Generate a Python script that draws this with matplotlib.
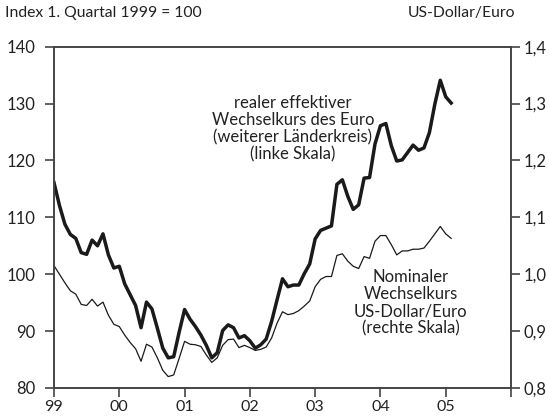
import matplotlib
matplotlib.use("Agg")
import matplotlib.pyplot as plt
import numpy as np

plt.rcParams['font.family'] = ['Lato', 'DejaVu Sans']

# monthly data, Jan 1999 .. Feb 2005
# thick line (left scale)
thick = [116.1, 112.1, 108.8, 107.0, 106.3, 103.8, 103.5, 106.0, 105.0, 107.1, 103.4, 101.1,
         101.4, 98.3, 96.4, 94.5, 90.6, 95.1, 93.9, 90.5, 87.0, 85.3, 85.5, 89.8,
         93.8, 92.1, 90.8, 89.3, 87.5, 85.3, 86.2, 90.1, 91.1, 90.6, 88.8, 89.2,
         88.3, 87.0, 87.6, 88.6, 91.7, 95.5, 99.2, 97.8, 98.1, 98.1, 100.1, 101.8,
         106.2, 107.7, 108.1, 108.5, 115.8, 116.6, 113.7, 111.4, 112.2, 116.9, 117.0, 122.9,
         126.1, 126.5, 122.6, 119.9, 120.1, 121.4, 122.7, 121.8, 122.2, 124.9, 129.9, 134.1,
         131.2, 130.1]
# thin line (right scale)
thin = [1.015, 1.000, 0.985, 0.971, 0.965, 0.947, 0.945, 0.956, 0.944, 0.951, 0.928, 0.912,
        0.908, 0.893, 0.880, 0.869, 0.847, 0.877, 0.872, 0.853, 0.831, 0.820, 0.823, 0.852,
        0.882, 0.877, 0.876, 0.873, 0.858, 0.845, 0.853, 0.875, 0.885, 0.886, 0.871, 0.875,
        0.871, 0.866, 0.868, 0.872, 0.888, 0.914, 0.934, 0.929, 0.931, 0.936, 0.944, 0.953,
        0.978, 0.991, 0.996, 0.996, 1.033, 1.036, 1.023, 1.014, 1.010, 1.031, 1.028, 1.058,
        1.068, 1.068, 1.052, 1.034, 1.041, 1.041, 1.044, 1.044, 1.046, 1.058, 1.071, 1.084,
        1.071, 1.063]

x = 1999 + np.arange(len(thick)) / 12.0

year_ticks = [1999, 2000, 2001, 2002, 2003, 2004, 2005, 2006]
year_labels = ['99', '00', '01', '02', '03', '04', '05', '']
left_ticks = [80, 90, 100, 110, 120, 130, 140]
right_ticks = [0.8, 0.9, 1.0, 1.1, 1.2, 1.3, 1.4]
right_labels = ['0,8', '0,9', '1,0', '1,1', '1,2', '1,3', '1,4']

W, H = 549, 418
fig = plt.figure(figsize=(W / 100, H / 100), dpi=100)
ax = fig.add_axes([54 / W, 30 / H, 457 / W, 341.3 / H])
ax2 = ax.twinx()

ax.plot(x, thick, color='#1a1a1a', lw=2.5)
ax2.plot(x, thin, color='#1a1a1a', lw=0.9)

ax.set_xlim(1999, 2006)
ax.set_ylim(80, 140)
ax2.set_ylim(0.8, 1.4)

ax.set_xticks(year_ticks)
ax.set_xticklabels(year_labels)
ax.set_yticks(left_ticks)
ax2.set_yticks(right_ticks)
ax2.set_yticklabels(right_labels)

for a in (ax, ax2):
    for s in a.spines.values():
        s.set_color('#444444')
        s.set_linewidth(1.2)
    a.tick_params(direction='out', length=6.3, width=1.2, color='#444444',
                  labelsize=12, labelcolor='#222222')
ax.tick_params(axis='y', pad=7)
ax.tick_params(axis='x', pad=2, labelsize=11.5)
ax2.tick_params(axis='y', pad=3)

ax.text(5 / W, 1 - 13 / H, 'Index 1. Quartal 1999 = 100', transform=fig.transFigure,
        fontsize=11.3, color='#222222', ha='left', va='center')
ax.text(515 / W, 1 - 13 / H, 'US-Dollar/Euro', transform=fig.transFigure,
        fontsize=11.3, color='#222222', ha='right', va='center')

ax.text(2002.66, 125.6, 'realer effektiver\nWechselkurs des Euro\n(weiterer Länderkreis)\n(linke Skala)',
        ha='center', va='center', fontsize=12, color='#222222', linespacing=1.1)
ax.text(2004.46, 95.0, 'Nominaler\nWechselkurs\nUS-Dollar/Euro\n(rechte Skala)',
        ha='center', va='center', fontsize=12, color='#222222', linespacing=1.1)

fig.savefig('out.png', dpi=100)
